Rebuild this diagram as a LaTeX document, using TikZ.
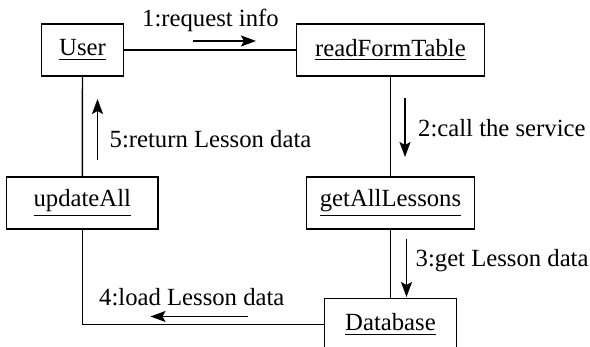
\documentclass[tikz,border=0pt]{standalone}
\usepackage{fontspec}
\setmainfont{Liberation Serif}
\usetikzlibrary{arrows.meta}
\begin{document}
\begin{tikzpicture}[x=0.5pt,y=0.5pt,line width=0.7pt,
    obj/.style={draw, minimum height=26pt, inner sep=0pt, font=\fontsize{12.35}{14}\selectfont},
    lbl/.style={inner sep=0pt, anchor=base west, font=\fontsize{12.35}{14}\selectfont},
    msg/.style={-{Stealth[length=7.5pt,width=5.5pt,inset=1.5pt]}}]
  \useasboundingbox (0,0) rectangle (590,347);

  \node[obj, minimum width=40.8pt] at (82.5,297) (user) {\underline{User}};
  \node[obj, minimum width=93.8pt] at (390.5,297) (read) {\underline{readFormTable}};
  \node[obj, minimum width=75.6pt] at (82.3,144) (update) {\underline{updateAll}};
  \node[obj, minimum width=83.8pt] at (390.5,144) (getall) {\underline{getAllLessons}};
  \node[obj, minimum width=66.2pt] at (390.5,22.5) (db) {\underline{Database}};

  \draw (user) -- (read);
  \draw (read) -- (getall);
  \draw (getall) -- (db);
  \draw (user) -- (update);
  \draw (update) |- (db);

  % messages
  \coordinate (m1a) at (193,306);  \coordinate (m1b) at (256,306);
  \coordinate (m2a) at (405,249);  \coordinate (m2b) at (405,190);
  \coordinate (m3a) at (406.5,108); \coordinate (m3b) at (406.5,50);
  \coordinate (m4a) at (248,30.5); \coordinate (m4b) at (150.5,30.5);
  \coordinate (m5a) at (97.5,187); \coordinate (m5b) at (97.5,248);
  \draw[msg] (m1a) -- (m1b);
  \draw[msg] (m2a) -- (m2b);
  \draw[msg] (m3a) -- (m3b);
  \draw[msg] (m4a) -- (m4b);
  \draw[msg] (m5a) -- (m5b);

  \node[lbl] at (141.5,320) (l1) {1:request info};
  \node[lbl] at (417.5,210) (l2) {2:call the service};
  \node[lbl] at (415,80) (l3) {3:get Lesson data};
  \node[lbl] at (98.5,41) (l4) {4:load Lesson data};
  \node[lbl] at (109,199) (l5) {5:return Lesson data};
\end{tikzpicture}
\end{document}
